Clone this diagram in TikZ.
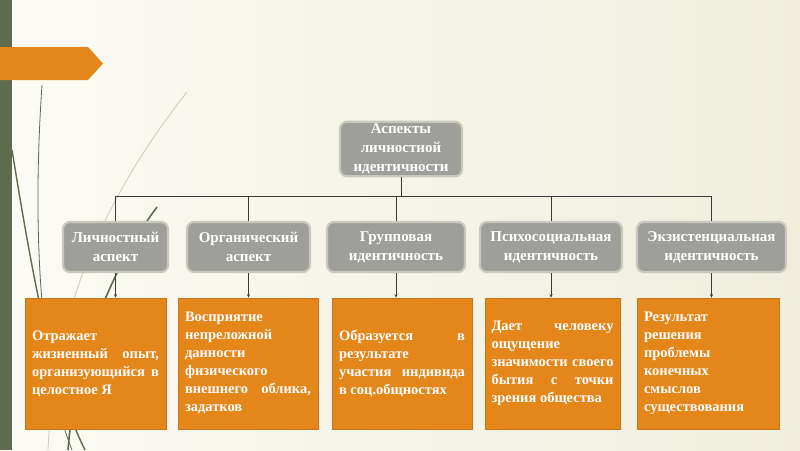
\documentclass[tikz,border=0pt]{standalone}
\usepackage{fontspec}
\setmainfont{Liberation Serif}
\usetikzlibrary{positioning,arrows.meta}
\definecolor{bgLeft}{HTML}{FBFAF5}
\definecolor{bgRight}{HTML}{F0EEDB}
\definecolor{barGreen}{HTML}{5E6B4C}
\definecolor{grassGray}{HTML}{C9CCBE}
\definecolor{aspGray}{HTML}{9E9E9B}
\definecolor{aspRim}{HTML}{C8C9BC}
\definecolor{accOrange}{HTML}{E5861A}
\definecolor{accRim}{HTML}{C87418}
\definecolor{lnk}{HTML}{3A3A3A}

\begin{document}
\begin{tikzpicture}[x=1pt,y=-1pt,>={Stealth[length=3.5pt,width=3pt]},
  aspect/.style={draw=aspRim,line width=2.2pt,fill=aspGray,rounded corners=7pt,
    text=white,align=center,inner sep=2pt,font=\fontsize{15}{19}\selectfont\bfseries},
  detail/.style={draw=accRim,line width=0.6pt,fill=accOrange,text=white,align=justify,
    inner sep=0pt,font=\fontsize{14.5}{18}\selectfont\bfseries,
    execute at begin node={\tolerance=10000\relax\hyphenpenalty=10000\relax}},
  link/.style={draw=lnk,line width=0.6pt}]
  % background
  \shade[left color=bgLeft,right color=bgRight] (0,0) rectangle (800,450);
  \useasboundingbox (0,0) rectangle (800,450);
  \fill[barGreen] (0,0) rectangle (12,450);
  \fill[accOrange] (0,47) -- (88,47) -- (103,63.5) -- (88,80) -- (0,80) -- cycle;
  % grass
  \draw[grassGray,line width=0.8pt] (187,92) .. controls (110,190) and (55,300) .. (48,450);
  \draw[barGreen,line width=0.8pt] (42,85) .. controls (32,230) and (40,370) .. (72,450);
  \draw[barGreen,line width=1.4pt] (12,150) .. controls (30,260) and (50,380) .. (85,450);
  \draw[barGreen,line width=1.6pt] (157,207) .. controls (110,270) and (75,360) .. (68,450);

  % top
  \node[aspect,minimum width=122pt,minimum height=48pt] (root) at (401,149) {Аспекты\\личностной\\идентичности};

  % aspects
  \node[aspect,minimum width=105pt,minimum height=50pt] (lich) at (115.5,247) {Личностный\\аспект};
  \node[aspect,minimum width=123pt,minimum height=50pt] (org) at (248.5,247) {Органический\\аспект};
  \node[aspect,minimum width=138pt,minimum height=50pt] (grp) at (396,247) {Групповая\\идентичность};
  \node[aspect,minimum width=142pt,minimum height=50pt] (psy) at (551,247) {Психосоциальная\\идентичность};
  \node[aspect,minimum width=149pt,minimum height=50pt] (ekz) at (711.5,247) {Экзистенциальная\\идентичность};

  % details
  \node[detail,minimum width=141pt,minimum height=131pt,text width=127pt] (dLich) at (95.5,363.5)
    {Отражает\linebreak жизненный опыт,\linebreak организующийся в\linebreak целостное Я};
  \node[detail,minimum width=140pt,minimum height=131pt,text width=126pt] (dOrg) at (248,363.5)
    {Восприятие\linebreak непреложной\linebreak данности\linebreak физического\linebreak внешнего облика,\linebreak задатков};
  \node[detail,minimum width=140pt,minimum height=131pt,text width=126pt] (dGrp) at (402,363.5)
    {Образуется в\linebreak результате\linebreak участия индивида\linebreak в соц.общностях};
  \node[detail,minimum width=135pt,minimum height=131pt,text width=122pt] (dPsy) at (552.5,363.5)
    {Дает человеку\linebreak ощущение\linebreak значимости своего\linebreak бытия с точки\linebreak зрения общества};
  \node[detail,minimum width=142pt,minimum height=131pt,text width=128pt] (dEkz) at (708,363.5)
    {Результат\linebreak решения\linebreak проблемы\linebreak конечных\linebreak смыслов\linebreak существования};

  % connectors
  \coordinate (bus) at (401,196);
  \draw[link] (root.south) -- (bus);
  \draw[link] (lich.north |- bus) -- (ekz.north |- bus);
  \foreach \n in {lich,org,grp,psy,ekz}{
    \draw[link] (\n.north |- bus) -- (\n.north);
  }
  \foreach \n/\d in {lich/dLich,org/dOrg,grp/dGrp,psy/dPsy,ekz/dEkz}{
    \draw[link,->] (\n.south) -- (\n.south |- \d.north);
  }
\end{tikzpicture}
\end{document}
